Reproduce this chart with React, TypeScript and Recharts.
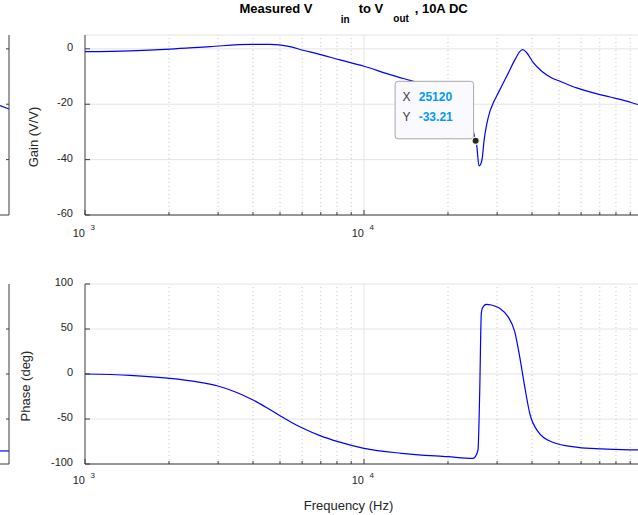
import React from "react";
import {
  LineChart,
  Line,
  XAxis,
  YAxis,
  CartesianGrid,
  ReferenceLine,
  ReferenceDot,
} from "recharts";

// measured gain (V/V, dB) vs frequency (Hz)
const gainFreq = [
  1000, 1450, 2017, 2806, 3904, 4603, 5430, 6044, 6840, 8204, 10000, 12400, 14620,
  17970, 21190, 23590, 25120, 25320, 25840, 26200, 26550, 26920, 27530, 28290, 29070,
  30290, 32470, 34770, 36240, 37060, 38310, 40450, 43350, 47090, 50420, 57850, 66360,
  76160, 87400, 95960, 100000,
];
const gainValues = [
  -1.0, -0.7, -0.1, 0.8, 1.6, 1.6, 0.8, -0.5, -1.8, -4.0, -6.3, -9.3, -11.4,
  -14.0, -17.5, -23.0, -33.21, -34.5, -42.3, -41.7, -39.3, -33.3, -27.3, -22.5, -19.5,
  -15.9, -9.9, -3.9, -0.9, -0.3, -1.4, -5.0, -8.1, -10.5, -11.7, -14.1, -15.9,
  -17.4, -18.9, -20.1, -20.4,
];

// measured phase (deg) vs frequency (Hz)
const phaseFreq = [
  1000, 1450, 2017, 2500, 2997, 3500, 4001, 4500, 4999, 5500, 6044, 6955, 8069, 10000,
  13600, 20000, 24590, 25060, 25620, 25980, 26330, 26550, 27440, 28600, 30640, 32820,
  34690, 36140, 37670, 39260, 42050, 46930, 58480, 70880, 95960, 100000,
];
const phaseValues = [
  0, -1.5, -4.8, -8.5, -13.3, -20.5, -28.9, -37.8, -46.3, -53.8, -60.3, -68.5, -75.2, -82.6,
  -88.1, -91.9, -93.7, -91.9, -84.4, -21.5, 67.4, 73, 77.4, 76.7, 73, 63.7,
  47, 19.3, -14, -43.6, -64, -75.2, -81.5, -83.3, -84.4, -84.5,
];

// data tip
const tipFreq = 25120;
const tipGain = -33.21;

// axes
const majorFreqs = [1000, 10000];
const minorFreqs = [
  2000, 3000, 4000, 5000, 6000, 7000, 8000, 9000,
  20000, 30000, 40000, 50000, 60000, 70000, 80000, 90000,
];
const xTicks = [1000, ...minorFreqs.slice(0, 8), 10000, ...minorFreqs.slice(8)];
const gainTicks = [-60, -40, -20, 0];
const phaseTicks = [-100, -50, 0, 50, 100];

// partial neighbouring panels at the left edge
const edgeGain = [-20.5, -21.7];
const edgePhase = [-85.5, -85.5];

const AXIS = "#3c3c3c";
const GRID = "#e4e4e4";
const MINOR = "#c8c8c8";
const TXT = "#262626";
const FONT = "'Liberation Sans', Arial, Helvetica, sans-serif";

const gainData = gainFreq.map((f, i) => ({ f, v: gainValues[i] }));
const phaseData = phaseFreq.map((f, i) => ({ f, v: phaseValues[i] }));

function makeXTick(labelBase: number, supBase: number, dir: number, labels: boolean) {
  return (props: any) => {
    const { x, y, payload } = props;
    const f = payload.value;
    const major = majorFreqs.includes(f);
    return (
      <g>
        <line x1={x} x2={x} y1={y} y2={y + dir * (major ? 5 : 3)} stroke={AXIS} />
        {labels && major && (
          <g fontFamily={FONT} fill={TXT}>
            <text x={x} y={y + labelBase} textAnchor="end" fontSize={11}>
              10
            </text>
            <text x={x + 5.5} y={y + supBase} fontSize={8}>
              {Math.round(Math.log10(f))}
            </text>
          </g>
        )}
      </g>
    );
  };
}

function yTick(props: any) {
  const { x, y, payload } = props;
  return (
    <g>
      <line x1={x} x2={x + 5} y1={y} y2={y} stroke={AXIS} />
      <text x={x - 12} y={y + 2} textAnchor="end" fontSize={11} fontFamily={FONT} fill={TXT}>
        {payload.value}
      </text>
    </g>
  );
}

function TipShape(props: any) {
  const { cx, cy } = props;
  const left = cx - 80.5;
  const top = cy - 59.5;
  return (
    <g fontFamily={FONT} fontSize={12}>
      <rect x={left} y={top} width={78.5} height={57.5} rx={3} fill="#f9f9fe" stroke="#a8a8a8" />
      <text x={left + 7.5} y={top + 19.8} fill="#404040">X</text>
      <text x={left + 23.6} y={top + 19.8} fill="#0099ff" fontWeight="bold">
        {tipFreq}
      </text>
      <text x={left + 7.5} y={top + 39.4} fill="#404040">Y</text>
      <text x={left + 23.6} y={top + 39.4} fill="#0099ff" fontWeight="bold">
        {tipGain.toFixed(2)}
      </text>
      <circle cx={cx} cy={cy} r={3.6} fill="#262626" stroke="#ffffc8" strokeWidth={1.2} />
    </g>
  );
}

function BodePanel({
  top,
  data,
  domain,
  yTicks,
  labelBase,
  supBase,
  children,
}: any) {
  return (
    <div style={{ position: "absolute", left: 0, top }}>
      <LineChart
        width={680}
        height={255}
        data={data}
        margin={{ top: 35, right: 37, left: 0, bottom: 0 }}
      >
        <CartesianGrid vertical={false} stroke={GRID} />
        {minorFreqs.map((f) => (
          <ReferenceLine key={f} x={f} stroke={MINOR} strokeDasharray="1 3" zIndex={-50} />
        ))}
        <ReferenceLine x={10000} stroke={GRID} zIndex={-50} />
        <XAxis
          dataKey="f"
          type="number"
          scale="log"
          domain={[1000, 100000]}
          allowDataOverflow
          ticks={xTicks}
          interval={0}
          height={40}
          tickSize={0}
          tickMargin={0}
          tickLine={false}
          axisLine={{ stroke: AXIS }}
          tick={makeXTick(labelBase, supBase, -1, true)}
        />
        <XAxis
          xAxisId="top"
          orientation="top"
          type="number"
          scale="log"
          domain={[1000, 100000]}
          allowDataOverflow
          ticks={xTicks}
          interval={0}
          height={0}
          tickSize={0}
          tickMargin={0}
          tickLine={false}
          axisLine={{ stroke: AXIS }}
          tick={makeXTick(0, 0, 1, false)}
        />
        <YAxis
          type="number"
          domain={domain}
          allowDataOverflow
          ticks={yTicks}
          interval={0}
          width={85}
          tickSize={0}
          tickMargin={0}
          tickLine={false}
          axisLine={{ stroke: AXIS }}
          tick={yTick}
        />
        <Line
          type="monotone"
          dataKey="v"
          stroke="#0000ff"
          strokeWidth={1.2}
          dot={false}
          activeDot={false}
          isAnimationActive={false}
        />
        {children}
      </LineChart>
    </div>
  );
}

function EdgePanel({ top, values, domain, ticks }: any) {
  const data = [
    { x: 0, v: values[0] },
    { x: 1, v: values[1] },
  ];
  return (
    <div style={{ position: "absolute", left: 0, top }}>
      <LineChart width={11} height={255} data={data} margin={{ top: 35, right: 1, left: 0, bottom: 0 }}>
        <XAxis dataKey="x" type="number" domain={[0, 1]} height={40} ticks={[]} tick={false} tickLine={false} axisLine={{ stroke: AXIS }} />
        <XAxis xAxisId="t" orientation="top" type="number" domain={[0, 1]} height={0} ticks={[]} tick={false} tickLine={false} axisLine={{ stroke: AXIS }} />
        <YAxis
          orientation="right"
          type="number"
          domain={domain}
          ticks={ticks}
          interval={0}
          width={1}
          tickSize={0}
          tickMargin={0}
          tickLine={false}
          axisLine={{ stroke: AXIS }}
          tick={(p: any) => <line x1={p.x} x2={p.x - 3} y1={p.y} y2={p.y} stroke={AXIS} />}
        />
        <Line type="linear" dataKey="v" stroke="#0000ff" strokeWidth={1.2} dot={false} isAnimationActive={false} />
      </LineChart>
    </div>
  );
}

export default function App() {
  return (
    <div
      style={{
        position: "fixed",
        left: 0,
        top: 0,
        width: 638,
        height: 515,
        overflow: "hidden",
        background: "#fff",
        fontFamily: FONT,
      }}
    >
      <EdgePanel top={0} values={edgeGain} domain={[-60, 5]} ticks={[-40, -20, 0]} />
      <EdgePanel top={249} values={edgePhase} domain={[-100, 100]} ticks={[-50, 0, 50]} />
      <BodePanel top={0} data={gainData} domain={[-60, 5]} yTicks={gainTicks} labelBase={22} supBase={15}>
        <ReferenceDot x={tipFreq} y={tipGain} r={4} zIndex={2100} shape={(p: any) => <TipShape {...p} />} />
      </BodePanel>
      <BodePanel top={249} data={phaseData} domain={[-100, 100]} yTicks={phaseTicks} labelBase={20} supBase={14} />
      <svg
        width={638}
        height={515}
        style={{ position: "absolute", left: 0, top: 0, pointerEvents: "none" }}
        fontFamily={FONT}
      >
        <g fontWeight="bold" fill="#000">
          <text x={239.5} y={13} fontSize={13}>Measured V</text>
          <text x={340.7} y={22.5} fontSize={10}>in</text>
          <text x={358.7} y={13} fontSize={13}>to V</text>
          <text x={393.3} y={22} fontSize={10}>out</text>
          <text x={414.7} y={13} fontSize={13}>, 10A DC</text>
        </g>
        <g fill={TXT} fontSize={13}>
          <text transform="translate(37.5,137) rotate(-90)" textAnchor="middle">Gain (V/V)</text>
          <text transform="translate(29.5,386) rotate(-90)" textAnchor="middle">Phase (deg)</text>
          <text x={348.5} y={510} textAnchor="middle">Frequency (Hz)</text>
        </g>
      </svg>
    </div>
  );
}
